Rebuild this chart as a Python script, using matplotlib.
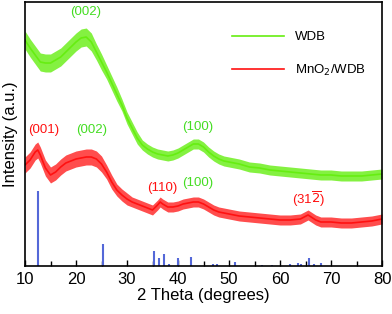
import matplotlib
matplotlib.use("Agg")
import matplotlib.pyplot as plt
import numpy as np
from matplotlib.ticker import MultipleLocator

plt.rcParams['font.family'] = ['Liberation Sans', 'DejaVu Sans']

# WDB pattern (2theta, intensity a.u.)
wdb_x = [10, 11, 12, 13, 14, 15, 16, 17, 18, 19, 20, 21, 22, 23, 24, 25, 26, 27, 28, 29,
         30, 31, 32, 33, 34, 35, 36, 37, 38, 39, 40, 41, 42, 43, 44, 45, 46, 47, 48, 49,
         50, 52, 54, 56, 58, 60, 62, 64, 66, 68, 70, 72, 74, 76, 78, 80]
wdb_y = [226, 218, 211, 204, 203, 203, 206, 209, 214, 219, 224, 228, 229, 224, 214, 204, 194, 183, 172, 161,
         148, 138, 128, 121, 117, 114, 112, 111, 110, 111, 113, 116, 119, 122, 122, 119, 114, 110, 107, 105,
         104, 102, 99, 98, 96, 95, 94, 93, 92, 91, 91, 90, 90, 90, 91, 92]
# half width of the noise band
wdb_noise = [9, 9, 9, 9, 9, 9, 9, 9, 9, 9, 9, 9, 9, 9, 8, 8, 7, 7, 7, 6,
             6, 6, 6, 5, 5, 5, 5, 5, 5, 5, 5, 5, 5, 5, 5, 5, 5, 5, 5, 5,
             5, 5, 5, 5, 5, 5, 5, 5, 5, 5, 5, 5, 5, 5, 5, 5]

# MnO2/WDB pattern
mno_x = [10, 11, 12, 12.5, 13, 14, 15, 16, 17, 18, 19, 20, 21, 22, 23, 24, 25, 26, 27, 28,
         29, 30, 31, 32, 33, 34, 35, 36, 36.5, 37, 38, 39, 40, 41, 42, 43, 44, 45, 46, 47,
         48, 50, 52, 54, 56, 58, 60, 62, 64, 65.5, 67, 68, 70, 72, 74, 76, 78, 80]
mno_y = [101, 106, 114, 116, 111, 98, 91, 94, 99, 103, 105, 107, 108, 109, 109, 107, 102, 94, 84, 76,
         71, 67, 64, 62, 60, 58, 56, 61, 64, 62, 59, 59, 60, 62, 63, 64, 64, 62, 59, 56,
         54, 52, 50, 49, 48, 47, 46, 46, 47, 51, 46, 44, 44, 43, 43, 44, 45, 47]
mno_noise = [8, 8, 8, 8, 8, 8, 8, 8, 8, 8, 8, 8, 8, 8, 8, 8, 8, 7, 7, 6,
             6, 6, 5, 5, 5, 5, 5, 5, 5, 5, 5, 5, 5, 5, 5, 5, 5, 5, 5, 5,
             5, 5, 5, 5, 5, 5, 5, 5, 5, 5, 5, 5, 5, 5, 5, 5, 5, 5]

# reference sticks
ref_pos = [12.5, 25.3, 35.3, 36.2, 37.3, 38.3, 40.0, 42.6, 46.8, 47.7, 51.1, 56.5,
           58.5, 61.9, 63.5, 64.2, 65.7, 66.6, 68.1]
ref_h = [75, 22, 15, 8, 12, 2, 8, 9, 2, 2, 4, 1, 1, 2, 3, 2, 8, 2, 3]

green = "#66ee11"
red = "#ff1111"

fig = plt.figure(figsize=(3.92, 3.14), dpi=100)
ax = fig.add_axes([0.0638, 0.1529, 0.9107, 0.8407])

wx, wy, wn = np.array(wdb_x), np.array(wdb_y), np.array(wdb_noise)
mx, my, mn = np.array(mno_x), np.array(mno_y), np.array(mno_noise)

ax.fill_between(wx, wy - wn, wy + wn, color=green, alpha=0.8, lw=0)
ax.plot(wx, wy, color=green, lw=1.2, label="WDB")
ax.fill_between(mx, my - mn, my + mn, color=red, alpha=0.75, lw=0)
ax.plot(mx, my, color=red, lw=1.2, label="MnO$_2$/WDB")

ax.vlines(ref_pos, 0, ref_h, color="#5468d8", lw=1.5)

# peak labels
ax.text(21.8, 254, "(002)", color="#44dd22", fontsize=9.5, ha="center", va="center")
ax.text(13.6, 136, "(001)", color=red, fontsize=9.5, ha="center", va="center")
ax.text(23.0, 136, "(002)", color="#44dd22", fontsize=9.5, ha="center", va="center")
ax.text(43.8, 139, "(100)", color="#44dd22", fontsize=9.5, ha="center", va="center")
ax.text(36.9, 78, "(110)", color=red, fontsize=9.5, ha="center", va="center")
ax.text(43.8, 83, "(100)", color="#44dd22", fontsize=9.5, ha="center", va="center")
ax.text(65.6, 67, r"(31$\overline{2}$)", color=red, fontsize=9.5, ha="center", va="center")

ax.set_xlim(10, 80)
ax.set_ylim(0, 264)
ax.xaxis.set_major_locator(MultipleLocator(10))
ax.xaxis.set_minor_locator(MultipleLocator(5))
ax.tick_params(axis="x", which="both", direction="in", top=False, labelsize=12, pad=4)
ax.tick_params(axis="x", which="major", length=4, width=1)
ax.tick_params(axis="x", which="minor", length=3.5, width=1)
ax.set_yticks([])
for s in ax.spines.values():
    s.set_linewidth(1.2)

ax.set_xlabel("2 Theta (degrees)", fontsize=12, labelpad=1)
ax.set_ylabel("Intensity (a.u.)", fontsize=12, labelpad=5)

ax.legend(loc="upper left", bbox_to_anchor=(0.58, 0.89), frameon=False, fontsize=9.5,
          handlelength=3.9, handletextpad=0.9, labelspacing=1.5, borderpad=0, borderaxespad=0)

fig.savefig("out.png", dpi=100)
